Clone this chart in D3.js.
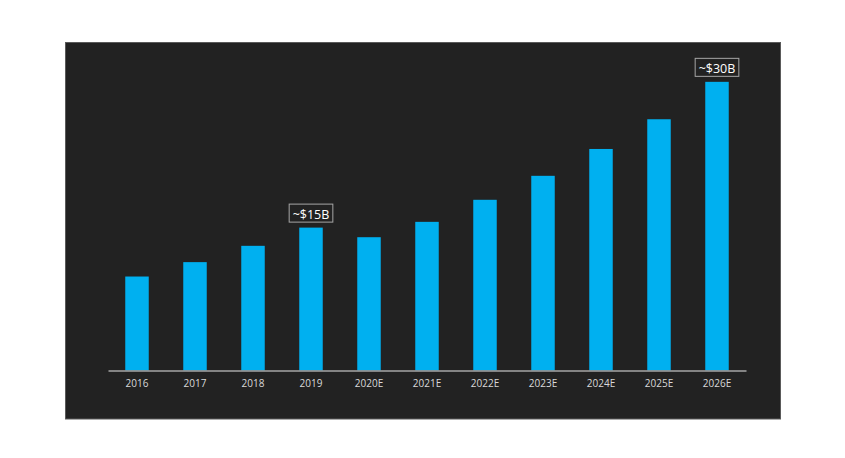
<!DOCTYPE html>
<html>
<head>
<meta charset="utf-8">
<script src="https://cdn.jsdelivr.net/npm/d3@7"></script>
<style>
  html, body { margin: 0; padding: 0; background: #ffffff; }
  svg { display: block; }
</style>
</head>
<body>
<svg id="chart" width="845" height="458"></svg>
<script>
// Data (market size, $B)
const categories = ["2016", "2017", "2018", "2019", "2020E", "2021E", "2022E", "2023E", "2024E", "2025E", "2026E"];
const values = [9.8, 11.3, 13.0, 14.9, 13.9, 15.5, 17.8, 20.3, 23.1, 26.2, 30.1];
const annotations = [
  { category: "2019", label: "~$15B" },
  { category: "2026E", label: "~$30B" }
];

const svg = d3.select("#chart");

// dark panel
svg.append("rect")
  .attr("x", 65.5).attr("y", 42.5)
  .attr("width", 715).attr("height", 376.5)
  .attr("fill", "#222222")
  .attr("stroke", "#5a5a5a")
  .attr("stroke-width", 1);

const x = d3.scaleBand()
  .domain(categories)
  .range([108, 746])
  .paddingInner(0.595)
  .paddingOuter(0.2975);

const y = d3.scaleLinear()
  .domain([0, 30])
  .range([370.5, 82.8]);

// bars
svg.append("g")
  .selectAll("rect")
  .data(categories.map((c, i) => ({ c, v: values[i] })))
  .join("rect")
  .attr("x", d => x(d.c))
  .attr("y", d => y(d.v))
  .attr("width", x.bandwidth())
  .attr("height", d => y(0) - y(d.v))
  .attr("fill", "#00b0f0");

// x axis
const axis = d3.axisBottom(x).tickSize(0).tickPadding(9);
const gx = svg.append("g")
  .attr("transform", `translate(0,${y(0)})`)
  .call(axis);
gx.select(".domain")
  .attr("stroke", "#a6a6a6")
  .attr("stroke-width", 1.5);
gx.selectAll("text")
  .attr("fill", "#d9d9d9")
  .style("font-family", "'Open Sans', 'Noto Sans', sans-serif")
  .style("font-size", "10px");

// annotations
const ann = svg.append("g");
annotations.forEach(a => {
  const i = categories.indexOf(a.category);
  const cx = x(a.category) + x.bandwidth() / 2;
  const top = y(values[i]);
  const g = ann.append("g");
  const t = g.append("text")
    .attr("x", cx)
    .attr("y", top - 9)
    .attr("text-anchor", "middle")
    .attr("fill", "#ffffff")
    .style("font-family", "'Open Sans', 'Noto Sans', sans-serif")
    .style("font-size", "12.5px")
    .text(a.label);
  const bb = t.node().getBBox();
  g.insert("rect", "text")
    .attr("x", bb.x - 3.5)
    .attr("y", top - 23.5)
    .attr("width", bb.width + 7)
    .attr("height", 18)
    .attr("fill", "#222222")
    .attr("stroke", "#a6a6a6")
    .attr("stroke-width", 1);
});
</script>
</body>
</html>
